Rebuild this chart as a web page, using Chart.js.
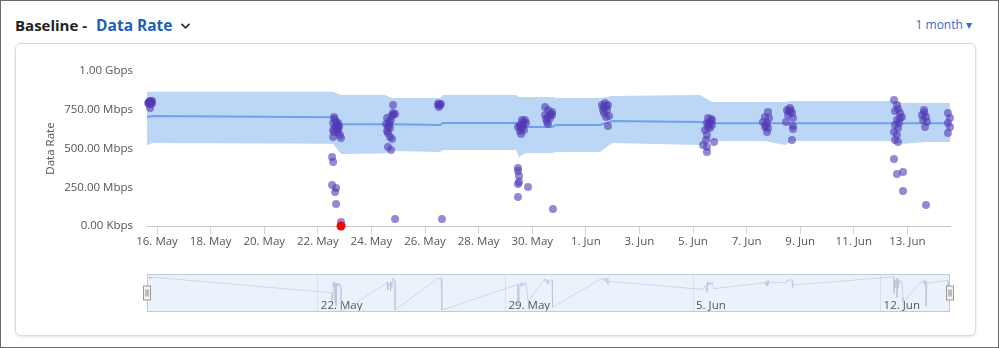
<!DOCTYPE html>
<html>
<head>
<meta charset="utf-8">
<title>Baseline - Data Rate</title>
<script src="https://cdn.jsdelivr.net/npm/chart.js@4.4.1/dist/chart.umd.min.js"></script>
<style>
  html, body { margin: 0; padding: 0; background: #fff; }
  #frame { position: relative; width: 999px; height: 348px; overflow: hidden; font-family: "Open Sans", "DejaVu Sans", sans-serif; }
  #edge { position: absolute; left: 0; top: 0; width: 999px; height: 348px; box-sizing: border-box; border: 1px solid #6b6b6b; pointer-events: none; z-index: 10; }
  #title { position: absolute; left: 15px; top: 15px; line-height: 20px; font-size: 15px; font-weight: 700; color: #222; white-space: nowrap; }
  #title .metric { color: #1d5fb8; margin-left: 9px; font-size: 15.5px; }
  #title svg { vertical-align: middle; margin-left: 7px; position: relative; top: -1px; }
  #range { position: absolute; right: 27px; top: 17px; line-height: 16px; font-size: 12px; color: #2b6fd0; white-space: nowrap; }
  #card { position: absolute; left: 15px; top: 43px; width: 961px; height: 293px; box-sizing: border-box; border: 1px solid #d8dbe0; border-radius: 6px; box-shadow: 0 1px 3px rgba(0,0,0,0.12); background: #fff; }
  canvas { position: absolute; left: 0; }
  #main { top: 0; }
  #nav { top: 262px; }
</style>
</head>
<body>
<div id="frame">
  <div id="card"></div>
  <div id="title">Baseline -<span class="metric">Data Rate</span><svg width="11" height="8" viewBox="0 0 11 8"><polyline points="1.5,1.8 5.5,5.8 9.5,1.8" fill="none" stroke="#333" stroke-width="1.8"/></svg></div>
  <div id="range">1 month ▾</div>
  <canvas id="main" width="999" height="262"></canvas>
  <canvas id="nav" width="999" height="70"></canvas>
  <div id="edge"></div>
</div>
<script>
// ---- data (dates are "MM-DD HH:mm", rates in Mbps) ----
const xStart = '05-15 15:00';
const xEnd = '06-14 14:10';
const xTickDates = ['05-16', '05-18', '05-20', '05-22', '05-24', '05-26', '05-28', '05-30',
  '06-01', '06-03', '06-05', '06-07', '06-09', '06-11', '06-13'];
const navTickDates = ['05-22', '05-29', '06-05', '06-12'];
const yTicks = [0, 250, 500, 750, 1000];

// expected range (baseline band) and its median
const bandTimes = ['05-15 15:00', '05-15 19:30', '05-22 13:30', '05-22 20:45', '05-24 12:10', '05-24 18:30',
  '05-26 13:30', '05-26 16:00', '05-29 09:30', '05-29 12:10', '05-29 18:30', '05-30 17:45', '05-30 21:20',
  '06-01 12:45', '06-01 23:30', '06-05 06:15', '06-05 17:00', '06-07 16:30', '06-08 10:25', '06-08 16:40',
  '06-12 10:10', '06-12 20:00', '06-13 16:40', '06-14 14:10'];
const bandUpper = [866, 866, 866, 845, 845, 826, 826, 845, 845, 832, 832, 832, 826,
  826, 839, 845, 800, 800, 800, 806, 806, 794, 794, 794];
const bandMedian = [703, 710, 701, 656, 656, 656, 652, 665, 665, 639, 639, 639, 652,
  652, 677, 671, 663, 663, 663, 663, 663, 663, 663, 663];
const bandLower = [520, 535, 530, 465, 468, 484, 477, 490, 490, 445, 471, 471, 477,
  477, 535, 523, 548, 548, 523, 548, 548, 530, 542, 542];

// measured data rate samples
const rateTimes = [
  '05-15 16:00', '05-15 16:50', '05-15 17:45', '05-15 18:40', '05-15 19:30', '05-15 16:50', '05-15 18:40', '05-15 17:45', '05-15 19:30', '05-15 17:00', '05-15 18:10',
  '05-22 12:45', '05-22 12:45', '05-22 13:40', '05-22 13:40', '05-22 13:40', '05-22 13:40', '05-22 14:30', '05-22 14:30', '05-22 15:25', '05-22 15:25', '05-22 16:20', '05-22 16:20', '05-22 16:20', '05-22 17:10', '05-22 17:10', '05-22 18:05', '05-22 18:05', '05-22 19:00', '05-22 19:50', '05-22 20:45', '05-22 20:45', '05-22 15:00', '05-22 17:40', '05-22 18:30',
  '05-24 13:05', '05-24 14:00', '05-24 14:00', '05-24 14:50', '05-24 14:50', '05-24 14:50', '05-24 15:45', '05-24 16:40', '05-24 16:40', '05-24 17:30', '05-24 17:30', '05-24 18:30', '05-24 19:20', '05-24 19:20', '05-24 21:10', '05-24 21:10', '05-24 18:00', '05-24 19:50', '05-24 16:00',
  '05-26 11:40', '05-26 12:30', '05-26 13:25', '05-26 14:20', '05-26 12:00', '05-26 15:10',
  '05-29 11:15', '05-29 11:15', '05-29 11:15', '05-29 11:15', '05-29 11:15', '05-29 12:10', '05-29 12:10', '05-29 13:05', '05-29 13:05', '05-29 14:00', '05-29 14:50', '05-29 14:50', '05-29 15:45', '05-29 16:40', '05-29 17:30', '05-29 18:30', '05-29 20:15', '05-29 16:00', '05-29 13:40',
  '05-30 11:30', '05-30 11:30', '05-30 13:15', '05-30 14:10', '05-30 14:10', '05-30 14:10', '05-30 15:55', '05-30 17:45', '05-30 17:45', '05-30 18:35', '05-30 12:30', '05-30 16:30',
  '06-01 14:30', '06-01 15:25', '06-01 16:20', '06-01 17:10', '06-01 18:05', '06-01 19:00', '06-01 19:50', '06-01 19:50', '06-01 20:45', '06-01 16:00', '06-01 18:30',
  '06-05 09:00', '06-05 10:45', '06-05 11:40', '06-05 12:30', '06-05 12:30', '06-05 12:30', '06-05 12:30', '06-05 13:25', '06-05 13:25', '06-05 15:15', '06-05 15:15', '06-05 17:00', '06-05 17:00', '06-05 18:50', '06-05 14:20', '06-05 16:10',
  '06-07 14:40', '06-07 16:30', '06-07 16:30', '06-07 18:15', '06-07 18:15', '06-07 19:10', '06-07 19:10', '06-07 20:05', '06-07 17:20',
  '06-08 11:15', '06-08 12:10', '06-08 13:05', '06-08 14:50', '06-08 16:40', '06-08 16:40', '06-08 17:30', '06-08 17:30', '06-08 17:30', '06-08 13:50', '06-08 15:40',
  '06-12 12:00', '06-12 12:00', '06-12 12:00', '06-12 12:55', '06-12 12:55', '06-12 12:55', '06-12 14:40', '06-12 14:40', '06-12 14:40', '06-12 14:40', '06-12 15:35', '06-12 15:35', '06-12 15:35', '06-12 16:30', '06-12 17:20', '06-12 17:20', '06-12 19:10', '06-12 20:05', '06-12 20:05',
  '06-13 13:05', '06-13 14:00', '06-13 14:50', '06-13 15:45', '06-13 16:40', '06-13 16:40', '06-13 17:30', '06-13 15:10',
  '06-14 12:20', '06-14 12:20', '06-14 12:20', '06-14 14:10', '06-14 14:10'
];
const rateMbps = [
  793, 800, 806, 800, 793, 787, 787, 761, 806, 797, 803,
  445, 265, 413, 665, 619, 574, 703, 606, 639, 219, 671, 245, 142, 632, 652, 665, 606, 639, 587, 568, 26, 690, 620, 645,
  658, 697, 613, 639, 600, 510, 671, 632, 574, 684, 490, 561, 781, 729, 723, 45, 710, 720, 655,
  781, 768, 781, 787, 790, 45,
  639, 374, 355, 271, 187, 323, 284, 652, 613, 594, 684, 632, 652, 619, 684, 665, 252, 670, 640,
  768, 716, 671, 748, 703, 658, 697, 735, 716, 110, 690, 725,
  781, 748, 729, 794, 703, 748, 781, 645, 710, 770, 775,
  523, 619, 555, 665, 587, 510, 477, 697, 639, 671, 632, 652, 684, 542, 660, 690,
  671, 703, 639, 665, 606, 735, 632, 697, 650,
  671, 748, 716, 761, 729, 555, 697, 645, 626, 740, 745,
  813, 606, 432, 742, 652, 555, 781, 684, 587, 335, 755, 632, 542, 665, 729, 697, 703, 348, 226,
  716, 684, 748, 639, 703, 135, 671, 730,
  729, 665, 600, 697, 639
];

// sample flagged as a failure
const failTimes = ['05-22 20:45'];
const failMbps = [0];

// ---- helpers ----
const YEAR = 2023;
const MONTHS = ['Jan', 'Feb', 'Mar', 'Apr', 'May', 'Jun', 'Jul', 'Aug', 'Sep', 'Oct', 'Nov', 'Dec'];
function toMs(s) {
  const [md, hm] = s.split(' ');
  const [m, d] = md.split('-').map(Number);
  const [h, mi] = (hm || '00:00').split(':').map(Number);
  return Date.UTC(YEAR, m - 1, d, h, mi);
}
function dayLabel(v) {
  const dt = new Date(v);
  return dt.getUTCDate() + '. ' + MONTHS[dt.getUTCMonth()];
}
function rateLabel(v) {
  if (v === 0) return '0.00 Kbps';
  if (v >= 1000) return (v / 1000).toFixed(2) + ' Gbps';
  return v.toFixed(2) + ' Mbps';
}
function series(times, values) {
  return times.map((t, i) => ({ x: toMs(t), y: values[i] }));
}

const FONT = '"Open Sans", "DejaVu Sans", sans-serif';
const xMin = toMs(xStart);
const xMax = toMs(xEnd);

const ratePoints = series(rateTimes, rateMbps);
const failPoints = series(failTimes, failMbps);

// ---- main chart ----
new Chart(document.getElementById('main'), {
  type: 'line',
  data: {
    datasets: [
      {
        type: 'scatter', label: 'Failure', data: failPoints, order: 0, clip: false,
        pointRadius: 4.5, pointHoverRadius: 4.5, pointBorderWidth: 0,
        pointBackgroundColor: '#ff0000', backgroundColor: '#ff0000', borderColor: '#ff0000'
      },
      {
        type: 'scatter', label: 'Data Rate', data: ratePoints, order: 1, clip: false,
        pointRadius: 4, pointHoverRadius: 4, pointBorderWidth: 0,
        pointBackgroundColor: 'rgba(82, 56, 182, 0.6)', backgroundColor: 'rgba(82, 56, 182, 0.6)', borderColor: 'rgba(82, 56, 182, 0.6)'
      },
      {
        label: 'Baseline', data: series(bandTimes, bandMedian), order: 2,
        borderColor: '#6ea2ea', borderWidth: 2, pointRadius: 0, fill: false, tension: 0
      },
      {
        label: 'Upper', data: series(bandTimes, bandUpper), order: 3,
        borderColor: 'transparent', borderWidth: 1, pointRadius: 0, tension: 0,
        fill: '+1', backgroundColor: 'rgb(188, 214, 246)'
      },
      {
        label: 'Lower', data: series(bandTimes, bandLower), order: 4,
        borderColor: 'transparent', borderWidth: 1, pointRadius: 0, tension: 0, fill: false
      }
    ]
  },
  options: {
    responsive: false,
    animation: false,
    events: [],
    layout: { padding: { left: 0, top: 71, right: 49, bottom: 0 } },
    plugins: { legend: { display: false }, tooltip: { enabled: false } },
    scales: {
      x: {
        type: 'linear', min: xMin, max: xMax,
        afterFit: s => { s.height = 36; },
        afterBuildTicks: s => { s.ticks = xTickDates.map(d => ({ value: toMs(d) })); },
        grid: { display: true, drawOnChartArea: false, drawTicks: true, tickLength: 8, color: '#ccd6eb' },
        border: { display: true, color: '#c4c4c4', width: 1 },
        ticks: {
          autoSkip: false, maxRotation: 0, padding: 1, color: '#555',
          font: { family: FONT, size: 11.5 },
          callback: v => dayLabel(v)
        }
      },
      y: {
        min: 0, max: 1000,
        afterFit: s => { s.width = 147; },
        afterBuildTicks: s => { s.ticks = yTicks.map(v => ({ value: v })); },
        grid: { display: false, drawTicks: false },
        border: { display: false },
        ticks: {
          padding: 14, color: '#555',
          font: { family: FONT, size: 11.5 },
          callback: v => rateLabel(v)
        },
        title: {
          display: true, text: 'Data Rate', color: '#555',
          font: { family: FONT, size: 11.5 },
          padding: { top: 44, bottom: 0 }
        }
      }
    }
  }
});

// ---- navigator ----
const navPoints = ratePoints.concat(failPoints).sort((a, b) => a.x - b.x);

const navigatorFrame = {
  id: 'navigatorFrame',
  beforeDraw(chart) {
    const { ctx, chartArea: a } = chart;
    ctx.save();
    ctx.fillStyle = 'rgba(220, 232, 250, 0.55)';
    ctx.fillRect(a.left, a.top, a.right - a.left, a.bottom - a.top);
    ctx.restore();
  },
  afterDraw(chart) {
    const { ctx, chartArea: a } = chart;
    ctx.save();
    ctx.strokeStyle = '#c3cad6';
    ctx.lineWidth = 1;
    ctx.strokeRect(Math.round(a.left) + 0.5, Math.round(a.top) + 0.5,
      Math.round(a.right - a.left) - 1, Math.round(a.bottom - a.top) - 1);
    const cy = Math.round((a.top + a.bottom) / 2);
    [a.left, a.right].forEach(x => {
      const hx = Math.round(x) - 3.5;
      ctx.fillStyle = '#f2f2f2';
      ctx.strokeStyle = '#999';
      ctx.fillRect(hx, cy - 7, 7, 14);
      ctx.strokeRect(hx, cy - 7, 7, 14);
      ctx.beginPath();
      ctx.moveTo(hx + 2.5, cy - 3.5); ctx.lineTo(hx + 2.5, cy + 3.5);
      ctx.moveTo(hx + 4.5, cy - 3.5); ctx.lineTo(hx + 4.5, cy + 3.5);
      ctx.strokeStyle = '#888';
      ctx.stroke();
    });
    ctx.restore();
  }
};

new Chart(document.getElementById('nav'), {
  type: 'line',
  data: {
    datasets: [{
      label: 'Data Rate', data: navPoints,
      borderColor: 'rgba(180, 192, 212, 0.55)', borderWidth: 1, pointRadius: 0, tension: 0, fill: false
    }]
  },
  options: {
    responsive: false,
    animation: false,
    events: [],
    layout: { padding: { left: 147, top: 12, right: 49, bottom: 0 } },
    plugins: { legend: { display: false }, tooltip: { enabled: false } },
    scales: {
      x: {
        type: 'linear', min: xMin, max: xMax,
        afterFit: s => { s.height = 20; },
        afterBuildTicks: s => { s.ticks = navTickDates.map(d => ({ value: toMs(d) })); },
        grid: { display: true, drawOnChartArea: true, drawTicks: false, color: '#dbe1ea' },
        border: { display: false },
        ticks: {
          autoSkip: false, maxRotation: 0, align: 'start', mirror: true, padding: -1, labelOffset: 3, color: '#555',
          font: { family: FONT, size: 11.5 },
          callback: v => dayLabel(v)
        }
      },
      y: { display: false, min: 0, max: 880 }
    }
  },
  plugins: [navigatorFrame]
});
</script>
</body>
</html>
